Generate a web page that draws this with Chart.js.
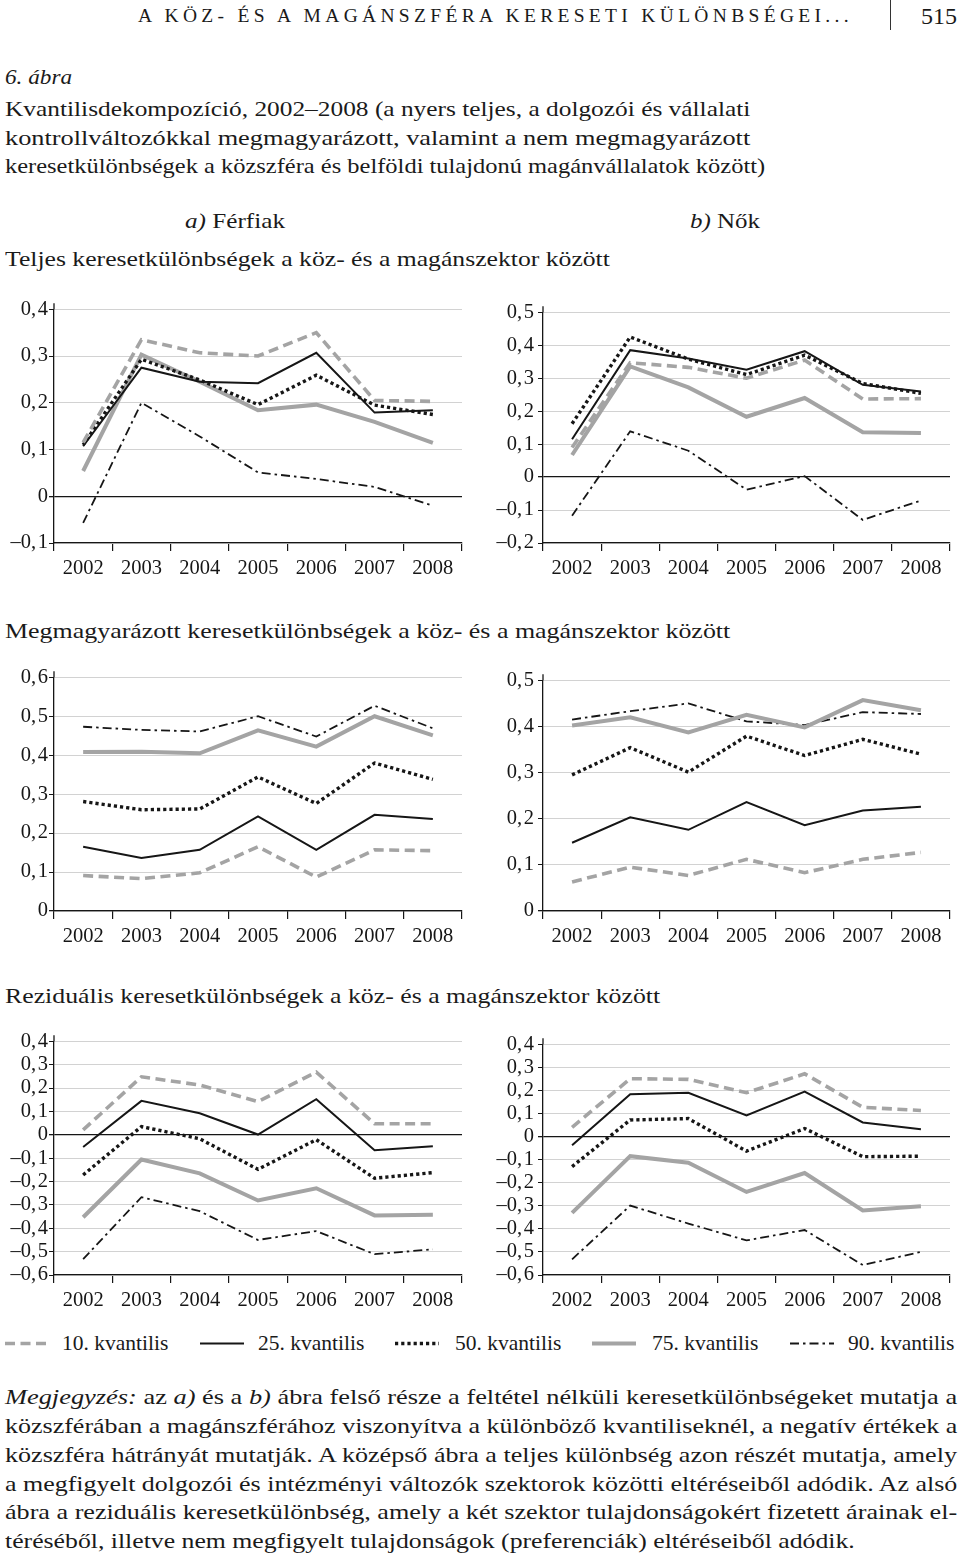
<!DOCTYPE html>
<html lang="hu">
<head>
<meta charset="utf-8">
<title>6. ábra – Kvantilisdekompozíció, 2002–2008</title>
<script src="https://cdn.jsdelivr.net/npm/chart.js@4.4.1/dist/chart.umd.min.js"></script>
<style>
  html, body { margin: 0; padding: 0; background: #fff; }
  body {
    width: 960px; height: 1566px; position: relative; overflow: hidden;
    font-family: 'Liberation Serif', 'DejaVu Serif', serif; color: #1a1a1a;
  }
  .t { position: absolute; white-space: nowrap; font-size: 22px; line-height: 29px; transform-origin: 0 50%; }
  .hdr { position: absolute; top: 3px; left: 138px; font-size: 19.5px; line-height: 26px; white-space: nowrap; }
  .bar { position: absolute; left: 890px; top: 0; width: 1px; height: 30px; background: #333; }
  .pg { position: absolute; left: 921px; top: 2px; font-size: 24px; line-height: 28px; }
  .panel { position: absolute; }
  .leg { position: absolute; top: 1329px; height: 29px; font-size: 21.5px; line-height: 29px; white-space: nowrap; }
  .leg svg { position: absolute; top: 0; }
  i { font-style: italic; }
</style>
</head>
<body>

<div class="hdr" id="hdr" data-w="715">A KÖZ- ÉS A MAGÁNSZFÉRA KERESETI KÜLÖNBSÉGEI...</div>
<div class="bar"></div>
<div class="pg">515</div>

<div class="t fit" style="left:5px; top:62px;" data-w="67"><i>6. ábra</i></div>
<div class="t fit" style="left:5px; top:94px;" data-w="745">Kvantilisdekompozíció, 2002–2008 (a nyers teljes, a dolgozói és vállalati</div>
<div class="t fit" style="left:5px; top:123px;" data-w="745">kontrollváltozókkal megmagyarázott, valamint a nem megmagyarázott</div>
<div class="t fit" style="left:5px; top:151px;" data-w="760">keresetkülönbségek a közszféra és belföldi tulajdonú magánvállalatok között)</div>

<div class="t fit" style="left:185px; top:206px;" data-w="100"><i>a)</i> Férfiak</div>
<div class="t fit" style="left:690px; top:206px;" data-w="70"><i>b)</i> Nők</div>

<div class="t fit" style="left:5px; top:244px;" data-w="605">Teljes keresetkülönbségek a köz- és a magánszektor között</div>
<div class="t fit" style="left:5px; top:616px;" data-w="725">Megmagyarázott keresetkülönbségek a köz- és a magánszektor között</div>
<div class="t fit" style="left:5px; top:981px;" data-w="655">Reziduális keresetkülönbségek a köz- és a magánszektor között</div>

<div class="panel" style="left:0; top:296px;"><canvas id="c1" width="470" height="290"></canvas></div>
<div class="panel" style="left:480px; top:296px;"><canvas id="c2" width="478" height="290"></canvas></div>
<div class="panel" style="left:0; top:664px;"><canvas id="c3" width="470" height="290"></canvas></div>
<div class="panel" style="left:480px; top:664px;"><canvas id="c4" width="478" height="290"></canvas></div>
<div class="panel" style="left:0; top:1028px;"><canvas id="c5" width="470" height="290"></canvas></div>
<div class="panel" style="left:480px; top:1028px;"><canvas id="c6" width="478" height="290"></canvas></div>

<div id="legend"></div>

<div class="t fit" style="left:5px; top:1382px;" data-w="952"><i>Megjegyzés:</i> az <i>a)</i> és a <i>b)</i> ábra felső része a feltétel nélküli keresetkülönbségeket mutatja a</div>
<div class="t fit" style="left:5px; top:1411px;" data-w="952">közszférában a magánszférához viszonyítva a különböző kvantiliseknél, a negatív értékek a</div>
<div class="t fit" style="left:5px; top:1440px;" data-w="952">közszféra hátrányát mutatják. A középső ábra a teljes különbség azon részét mutatja, amely</div>
<div class="t fit" style="left:5px; top:1469px;" data-w="952">a megfigyelt dolgozói és intézményi változók szektorok közötti eltéréseiből adódik. Az alsó</div>
<div class="t fit" style="left:5px; top:1497px;" data-w="952">ábra a reziduális keresetkülönbség, amely a két szektor tulajdonságokért fizetett árainak el-</div>
<div class="t fit" style="left:5px; top:1526px;" data-w="850">téréséből, illetve nem megfigyelt tulajdonságok (preferenciák) eltéréseiből adódik.</div>

<script>
const years = ['2002', '2003', '2004', '2005', '2006', '2007', '2008']
const quantiles = ['10. kvantilis', '25. kvantilis', '50. kvantilis', '75. kvantilis', '90. kvantilis']

// a) Férfiak – teljes keresetkülönbség
const menTotalQ10 = [0.115, 0.335, 0.307, 0.300, 0.350, 0.205, 0.203]
const menTotalQ25 = [0.107, 0.275, 0.245, 0.242, 0.307, 0.179, 0.184]
const menTotalQ50 = [0.110, 0.293, 0.249, 0.196, 0.259, 0.195, 0.175]
const menTotalQ75 = [0.054, 0.303, 0.245, 0.184, 0.196, 0.159, 0.114]
const menTotalQ90 = [-0.057, 0.200, 0.128, 0.051, 0.037, 0.020, -0.020]

// b) Nők – teljes keresetkülönbség
const womenTotalQ10 = [0.090, 0.347, 0.333, 0.300, 0.355, 0.237, 0.238]
const womenTotalQ25 = [0.115, 0.385, 0.360, 0.326, 0.382, 0.280, 0.260]
const womenTotalQ50 = [0.162, 0.425, 0.358, 0.311, 0.370, 0.284, 0.254]
const womenTotalQ75 = [0.067, 0.336, 0.272, 0.183, 0.240, 0.136, 0.134]
const womenTotalQ90 = [-0.117, 0.139, 0.080, -0.038, 0.003, -0.130, -0.071]

// a) Férfiak – megmagyarázott
const menExplQ10 = [0.091, 0.083, 0.098, 0.165, 0.087, 0.157, 0.155]
const menExplQ25 = [0.165, 0.136, 0.157, 0.243, 0.157, 0.247, 0.236]
const menExplQ50 = [0.281, 0.260, 0.262, 0.344, 0.276, 0.380, 0.338]
const menExplQ75 = [0.408, 0.409, 0.405, 0.464, 0.422, 0.500, 0.451]
const menExplQ90 = [0.473, 0.465, 0.461, 0.500, 0.448, 0.527, 0.469]

// b) Nők – megmagyarázott
const womenExplQ10 = [0.063, 0.095, 0.077, 0.112, 0.083, 0.112, 0.127]
const womenExplQ25 = [0.148, 0.203, 0.176, 0.236, 0.186, 0.218, 0.226]
const womenExplQ50 = [0.295, 0.354, 0.301, 0.379, 0.337, 0.372, 0.340]
const womenExplQ75 = [0.402, 0.420, 0.387, 0.425, 0.398, 0.457, 0.435]
const womenExplQ90 = [0.415, 0.433, 0.450, 0.411, 0.403, 0.431, 0.427]

// a) Férfiak – reziduális
const menResQ10 = [0.021, 0.248, 0.213, 0.142, 0.268, 0.047, 0.047]
const menResQ25 = [-0.052, 0.145, 0.092, 0.001, 0.152, -0.066, -0.049]
const menResQ50 = [-0.172, 0.035, -0.017, -0.148, -0.021, -0.186, -0.162]
const menResQ75 = [-0.353, -0.106, -0.165, -0.281, -0.229, -0.345, -0.342]
const menResQ90 = [-0.532, -0.267, -0.327, -0.450, -0.412, -0.511, -0.490]

// b) Nők – reziduális
const womenResQ10 = [0.040, 0.251, 0.248, 0.190, 0.272, 0.127, 0.113]
const womenResQ25 = [-0.038, 0.183, 0.190, 0.092, 0.195, 0.061, 0.032]
const womenResQ50 = [-0.130, 0.072, 0.078, -0.063, 0.035, -0.087, -0.085]
const womenResQ75 = [-0.331, -0.085, -0.113, -0.240, -0.158, -0.320, -0.302]
const womenResQ90 = [-0.532, -0.299, -0.377, -0.450, -0.405, -0.557, -0.500]

// y tengely tartományok
const yRangeTotalMen = [-0.1, 0.4]
const yRangeTotalWomen = [-0.2, 0.5]
const yRangeExplMen = [0, 0.6]
const yRangeExplWomen = [0, 0.5]
const yRangeRes = [-0.6, 0.4]

const GRAY = '#a4a4a4'
const INK = '#161616'
const FONT = "'Liberation Serif', 'DejaVu Serif', serif"

const lineStyles = [
  { color: GRAY, width: 3.6, dash: [10, 5.5] },
  { color: INK, width: 2, dash: [] },
  { color: INK, width: 3.4, dash: [3.2, 3] },
  { color: GRAY, width: 4, dash: [] },
  { color: INK, width: 1.8, dash: [9, 4, 2.5, 4] },
]

function fmt(v) {
  if (Math.abs(v) < 1e-9) return '0'
  return v.toFixed(1).replace('.', ',\u200A').replace('-', '–')
}

// y tengely vonala kicsit a felső osztás fölé nyúlik
const axisStub = {
  id: 'axisStub',
  afterDraw(chart) {
    const { ctx, chartArea } = chart
    ctx.save()
    ctx.strokeStyle = INK
    ctx.lineWidth = 1.3
    ctx.beginPath()
    ctx.moveTo(chartArea.left, chartArea.top)
    ctx.lineTo(chartArea.left, chartArea.top - 6)
    ctx.stroke()
    ctx.restore()
  },
}

function buildChart(id, series, range, axisW, labelPad) {
  const ctx = document.getElementById(id)
  return new Chart(ctx, {
    type: 'line',
    data: {
      labels: years,
      datasets: series.map((d, i) => ({
        label: quantiles[i],
        data: d,
        borderColor: lineStyles[i].color,
        borderWidth: lineStyles[i].width,
        borderDash: lineStyles[i].dash,
        borderCapStyle: 'butt',
        borderJoinStyle: 'miter',
        pointRadius: 0,
        tension: 0,
        fill: false,
      })),
    },
    plugins: [axisStub],
    options: {
      responsive: false,
      animation: false,
      events: [],
      layout: { padding: { top: 10, right: 8, left: 0, bottom: 0 } },
      plugins: { legend: { display: false }, tooltip: { enabled: false } },
      scales: {
        x: {
          offset: true,
          grid: { offset: true, drawOnChartArea: false, tickLength: 8, color: INK, lineWidth: 1.2 },
          border: { color: INK, width: 1.3 },
          ticks: { color: INK, font: { family: FONT, size: 20.5 }, padding: 5, maxRotation: 0, autoSkip: false },
          afterFit: (s) => { s.height = 43 },
        },
        y: {
          min: range[0],
          max: range[1],
          grid: {
            color: (c) => (Math.abs(c.tick.value) < 1e-9 ? INK : '#d2d2d2'),
            lineWidth: (c) => (Math.abs(c.tick.value) < 1e-9 ? 1.3 : 1),
            tickColor: INK,
            tickLength: 5,
          },
          border: { color: INK, width: 1.3 },
          ticks: {
            stepSize: 0.1,
            autoSkip: false,
            color: INK,
            padding: labelPad,
            font: { family: FONT, size: 20.5 },
            callback: (v) => fmt(v),
          },
          afterFit: (s) => { s.width = axisW },
        },
      },
    },
  })
}

function drawLegend() {
  const host = document.getElementById('legend')
  const pos = [
    { sx: 5, tx: 62 },
    { sx: 200, tx: 258 },
    { sx: 395, tx: 455 },
    { sx: 592, tx: 652 },
    { sx: 790, tx: 848 },
  ]
  quantiles.forEach((q, i) => {
    const st = lineStyles[i]
    const el = document.createElement('div')
    el.className = 'leg'
    el.style.left = pos[i].sx + 'px'
    const dash = st.dash.length ? `stroke-dasharray="${st.dash.join(' ')}"` : ''
    el.innerHTML =
      `<svg width="46" height="29" style="left:0"><line x1="0" y1="14.5" x2="44" y2="14.5" stroke="${st.color}" stroke-width="${st.width}" ${dash}/></svg>` +
      `<span style="position:absolute; left:${pos[i].tx - pos[i].sx}px">${q}</span>`
    host.appendChild(el)
  })
}

function fitText() {
  const hdr = document.getElementById('hdr')
  const chars = hdr.textContent.length
  const w0 = hdr.getBoundingClientRect().width
  hdr.style.letterSpacing = ((+hdr.dataset.w - w0) / chars).toFixed(2) + 'px'
  document.querySelectorAll('.fit').forEach((el) => {
    const w = el.getBoundingClientRect().width
    el.style.transform = `scaleX(${(+el.dataset.w / w).toFixed(3)})`
  })
}

fitText()
buildChart('c1', [menTotalQ10, menTotalQ25, menTotalQ50, menTotalQ75, menTotalQ90], yRangeTotalMen, 54, 1)
buildChart('c2', [womenTotalQ10, womenTotalQ25, womenTotalQ50, womenTotalQ75, womenTotalQ90], yRangeTotalWomen, 63, 4)
buildChart('c3', [menExplQ10, menExplQ25, menExplQ50, menExplQ75, menExplQ90], yRangeExplMen, 54, 1)
buildChart('c4', [womenExplQ10, womenExplQ25, womenExplQ50, womenExplQ75, womenExplQ90], yRangeExplWomen, 63, 4)
buildChart('c5', [menResQ10, menResQ25, menResQ50, menResQ75, menResQ90], yRangeRes, 54, 1)
buildChart('c6', [womenResQ10, womenResQ25, womenResQ50, womenResQ75, womenResQ90], yRangeRes, 63, 4)
drawLegend()
</script>
</body>
</html>
